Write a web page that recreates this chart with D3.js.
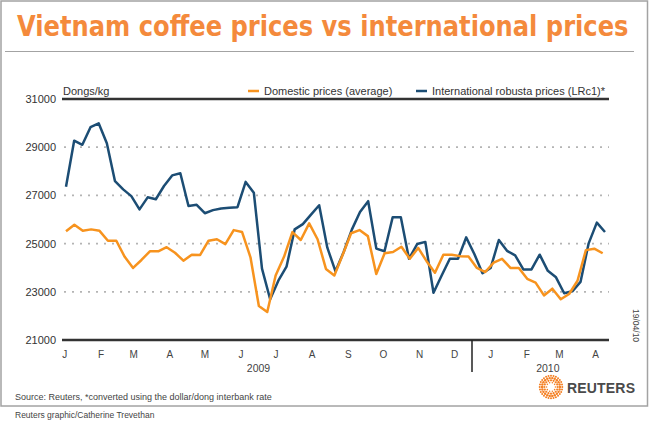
<!DOCTYPE html>
<html lang="en">
<head>
<meta charset="UTF-8">
<title>Vietnam coffee prices vs international prices</title>
<script src="https://cdnjs.cloudflare.com/ajax/libs/d3/7.8.5/d3.min.js"></script>
<style>
  body { margin: 0; background: #fff; }
  text { font-family: "Liberation Sans", Arial, sans-serif; }
</style>
</head>
<body>
<script>
var width = 650;
var height = 423;

// international robusta (LRc1), weekly, converted to dongs/kg
var intlStart = new Date(2009, 0, 2);
var intlEnd = new Date(2010, 3, 9);
var international = [27360, 29270, 29100, 29830, 29990, 29160, 27590, 27250, 26970, 26420,
                     26920, 26840, 27390, 27830, 27920, 26560, 26610, 26260, 26390, 26460,
                     26490, 26510, 27560, 27110, 23960, 22690, 23460, 24040, 25590, 25810,
                     26200, 26590, 24830, 23850, 24650, 25580, 26310, 26760, 24790, 24680,
                     26090, 26090, 24370, 24980, 25070, 22960, 23680, 24370, 24370, 25260,
                     24570, 23770, 23990, 25150, 24700, 24510, 23930, 23930, 24540, 23870,
                     23600, 22940, 23020, 23410, 25010, 25870, 25480];

// domestic prices (average), dongs/kg
var domStart = new Date(2009, 0, 2);
var domEnd = new Date(2010, 3, 7);
var domestic = [25510, 25780, 25530, 25590, 25530, 25120, 25120, 24450, 23990, 24320,
                24680, 24680, 24850, 24620, 24290, 24540, 24530, 25120, 25180, 24980,
                25560, 25480, 24430, 22410, 22160, 23680, 24450, 25480, 25150, 25840,
                25180, 23950, 23680, 24540, 25430, 25560, 25310, 23740, 24600, 24650,
                24870, 24370, 24820, 24270, 23790, 24540, 24540, 24480, 24460, 23990,
                23820, 24210, 24370, 23990, 23990, 23540, 23380, 22850, 23130, 22690,
                22910, 23460, 24730, 24790, 24600];

var yTicks = [21000, 23000, 25000, 27000, 29000, 31000];
var months = ['J', 'F', 'M', 'A', 'M', 'J', 'J', 'A', 'S', 'O', 'N', 'D', 'J', 'F', 'M', 'A'];
var years = ['2009', '2010'];
var yearAt = [new Date(2009, 5, 16), new Date(2010, 1, 19)];
var yearBreak = new Date(2009, 11, 16);

var orange = '#f7931e';
var navy = '#1c4d74';

var svg = d3.select('body')
            .append('svg')
            .attr('width', width)
            .attr('height', height);

// plot box (note: "top" is taken by window.top, so use other names)
var plotLeft = 62, plotRight = 609, plotTop = 99, plotBottom = 340;

var x = d3.scaleTime()
          .domain([intlStart, intlEnd])
          .range([66, 605]);

var y = d3.scaleLinear()
          .domain([21000, 31000])
          .range([plotBottom, plotTop]);

// each series has its own observation count over its own period
var xIntl = d3.scalePoint()
              .domain(d3.range(international.length))
              .range([x(intlStart), x(intlEnd)]);
var xDom = d3.scalePoint()
             .domain(d3.range(domestic.length))
             .range([x(domStart), x(domEnd)]);

// frame and title
svg.append('rect')
   .attr('x', 1).attr('y', 1)
   .attr('width', 646.5).attr('height', 405)
   .attr('fill', 'none')
   .attr('stroke', '#a3a3a3')
   .attr('stroke-width', 1.5);

// condensed title: squeeze the glyphs horizontally to the width in the picture
var title = svg.append('text')
   .style('font-family', '"Liberation Sans Narrow", "DejaVu Sans Condensed", sans-serif')
   .style('font-size', '28px')
   .style('font-weight', 'bold')
   .attr('fill', '#f48a3c')
   .text('Vietnam coffee prices vs international prices');
var titleW = title.node().getComputedTextLength();
title.attr('transform', 'translate(17,36) scale(' + (612 / titleW) + ',1)');

svg.append('line')
   .attr('x1', 5).attr('x2', 634)
   .attr('y1', 51.5).attr('y2', 51.5)
   .attr('stroke', '#a3a3a3');

// grid
svg.selectAll('.grid')
   .data(yTicks.slice(1, -1))
   .enter()
   .append('line')
   .attr('class', 'grid')
   .attr('x1', plotLeft + 2).attr('x2', plotRight)
   .attr('y1', function(d){ return y(d); })
   .attr('y2', function(d){ return y(d); })
   .attr('stroke', '#b4b4b4')
   .attr('stroke-width', 1.8)
   .attr('stroke-dasharray', '2,6');

svg.selectAll('.frameline')
   .data([yTicks[0], yTicks[yTicks.length - 1]])
   .enter()
   .append('line')
   .attr('class', 'frameline')
   .attr('x1', plotLeft).attr('x2', plotRight)
   .attr('y1', function(d){ return y(d); })
   .attr('y2', function(d){ return y(d); })
   .attr('stroke', '#333')
   .attr('stroke-width', 2.5);

// y labels
svg.selectAll('.ylab')
   .data(yTicks)
   .enter()
   .append('text')
   .attr('class', 'ylab')
   .attr('x', 56)
   .attr('y', function(d){ return y(d); })
   .attr('dy', '0.36em')
   .attr('text-anchor', 'end')
   .style('font-size', '11px')
   .attr('fill', '#333')
   .text(function(d){ return d; });

svg.append('text')
   .attr('x', 63).attr('y', 95)
   .style('font-size', '11px')
   .attr('fill', '#333')
   .text('Dongs/kg');

// x labels
var monthStarts = d3.timeMonth.range(new Date(2009, 0, 1), new Date(2010, 4, 1));
svg.selectAll('.mlab')
   .data(monthStarts)
   .enter()
   .append('text')
   .attr('class', 'mlab')
   .attr('x', function(d){ return x(d); })
   .attr('y', 357.5)
   .attr('text-anchor', 'middle')
   .style('font-size', '10px')
   .attr('fill', '#444')
   .text(function(d, i){ return months[i]; });

svg.selectAll('.yearlab')
   .data(years)
   .enter()
   .append('text')
   .attr('class', 'yearlab')
   .attr('x', function(d, i){ return x(yearAt[i]); })
   .attr('y', 371.5)
   .attr('text-anchor', 'middle')
   .style('font-size', '10.5px')
   .attr('fill', '#444')
   .text(function(d){ return d; });

svg.append('line')
   .attr('x1', x(yearBreak)).attr('x2', x(yearBreak))
   .attr('y1', plotBottom).attr('y2', 372)
   .attr('stroke', '#222')
   .attr('stroke-width', 1.5);

// series
var lineIntl = d3.line()
                 .x(function(d, i){ return xIntl(i); })
                 .y(function(d){ return y(d); });
var lineDom = d3.line()
                .x(function(d, i){ return xDom(i); })
                .y(function(d){ return y(d); });

svg.append('path')
   .datum(international)
   .attr('d', lineIntl)
   .attr('fill', 'none')
   .attr('stroke', navy)
   .attr('stroke-width', 2.5)
   .attr('stroke-linejoin', 'round');

svg.append('path')
   .datum(domestic)
   .attr('d', lineDom)
   .attr('fill', 'none')
   .attr('stroke', orange)
   .attr('stroke-width', 2.5)
   .attr('stroke-linejoin', 'round');

// legend
var legend = [
  {name: 'Domestic prices (average)', color: orange, x: 248},
  {name: 'International robusta prices (LRc1)*', color: navy, x: 416}
];
var lg = svg.selectAll('.legend')
            .data(legend)
            .enter()
            .append('g')
            .attr('class', 'legend')
            .attr('transform', function(d){ return 'translate(' + d.x + ',0)'; });
lg.append('line')
  .attr('x1', 0).attr('x2', 11)
  .attr('y1', 91).attr('y2', 91)
  .attr('stroke', function(d){ return d.color; })
  .attr('stroke-width', 2.5);
lg.append('text')
  .attr('x', 16).attr('y', 95)
  .style('font-size', '11px')
  .attr('fill', '#333')
  .text(function(d){ return d.name; });

// footer
svg.append('text')
   .attr('x', 15).attr('y', 400)
   .style('font-size', '9px')
   .attr('fill', '#444')
   .text('Source: Reuters, *converted using the dollar/dong interbank rate');

svg.append('text')
   .attr('x', 15).attr('y', 418)
   .style('font-size', '8.5px')
   .attr('fill', '#444')
   .text('Reuters graphic/Catherine Trevethan');

svg.append('text')
   .attr('transform', 'translate(633,309) rotate(90)')
   .style('font-size', '8.5px')
   .attr('fill', '#444')
   .text('19/04/10');

// reuters logo: rings of dots
var logo = svg.append('g').attr('transform', 'translate(551,387)');
[[4.5, 10, 0.8], [6.7, 16, 1.1], [9, 22, 1.2], [11.3, 28, 1]].forEach(function(ring){
  logo.selectAll(null)
      .data(d3.range(ring[1]))
      .enter()
      .append('circle')
      .attr('cx', function(k){ return ring[0] * Math.cos(k / ring[1] * 2 * Math.PI); })
      .attr('cy', function(k){ return ring[0] * Math.sin(k / ring[1] * 2 * Math.PI); })
      .attr('r', ring[2])
      .attr('fill', '#f48024');
});

svg.append('text')
   .attr('x', 567).attr('y', 392.5)
   .attr('textLength', 68)
   .style('font-size', '14px')
   .style('font-weight', 'bold')
   .attr('fill', '#4a4a4a')
   .text('REUTERS');
</script>
</body>
</html>
